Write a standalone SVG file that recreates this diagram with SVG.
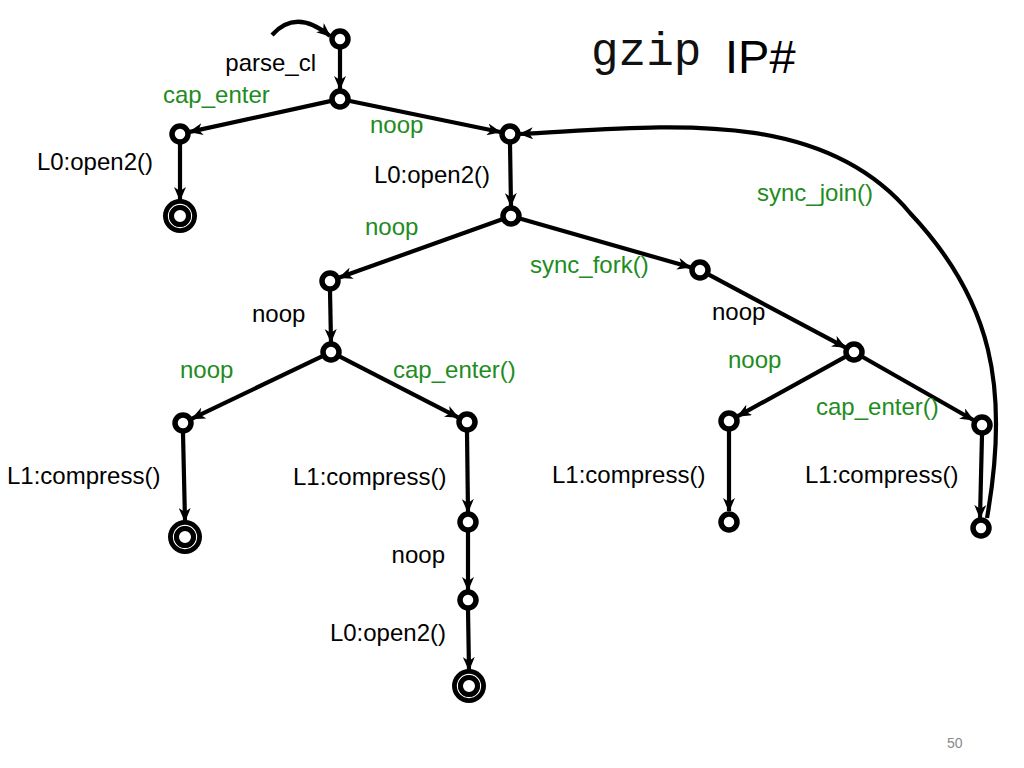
<svg xmlns="http://www.w3.org/2000/svg" width="1024" height="768" viewBox="0 0 1024 768">
<style>
.e{fill:none;stroke:#000;stroke-width:4.2;marker-end:url(#ah)}
.n{fill:#fff;stroke:#000;stroke-width:5.5}
.a1{fill:#000;stroke:none}
.a2{fill:none;stroke:#fff;stroke-width:1.3}
.a3{fill:#fff;stroke:#000;stroke-width:5}
text{font-family:"Liberation Sans",Arial,sans-serif;font-size:24px}
.g{fill:#1e8c1e}
.k{fill:#000}
.end{text-anchor:end}
</style>
<defs>
<marker id="ah" viewBox="0 0 14 12" refX="13" refY="6" markerWidth="14" markerHeight="12" markerUnits="userSpaceOnUse" orient="auto">
<path d="M0,0 L14,6 L0,12 L4,6 z" fill="#000"/>
</marker>
<g id="acc"><circle class="a1" r="17"/><circle class="a2" r="11.5"/><circle class="a3" r="8.5"/></g>
</defs>
<rect width="1024" height="768" fill="#fff"/>
<g id="title">
<text x="591" y="65" style="font-family:'Liberation Mono','Courier New',monospace;font-size:46px;fill:#111">gzip</text>
<text x="725" y="73" style="font-size:47px">IP#</text>
</g>
<g id="connectors">
<path class="e" d="M272,35 Q296,8 330,36"/>
<path class="e" d="M340,49 L340,89"/>
<path class="e" d="M330.2,101.1 L189.8,131.9"/>
<path class="e" d="M349.8,101 L500.2,132"/>
<path class="e" d="M180,144 L180,200"/>
<path class="e" d="M510,144 L511,206"/>
<path class="e" d="M501.6,219.4 L339.4,277.6"/>
<path class="e" d="M520.6,218.7 L690.4,267.3"/>
<path class="e" d="M330,291 L331,342"/>
<path class="e" d="M322,356.3 L192,418.7"/>
<path class="e" d="M339.9,356.6 L458.1,417.4"/>
<path class="e" d="M183,433 L185,521"/>
<path class="e" d="M467,432 L468,512"/>
<path class="e" d="M468,532 L468,590"/>
<path class="e" d="M468,610 L469,670"/>
<path class="e" d="M708.8,274.7 L845.2,347.3"/>
<path class="e" d="M845.2,356.8 L737.8,416.2"/>
<path class="e" d="M862.7,357 L973.3,420"/>
<path class="e" d="M729,431 L729,511"/>
<path class="e" d="M982,435 L980,518"/>
<path class="e" d="M987,518 C1010,388 992,300 910,213 C820,105 660,127 520,134"/>
</g>
<g id="nodes">
<g id="n0"><circle class="n" cx="340" cy="39" r="8"/></g>
<g id="n1"><circle class="n" cx="340" cy="99" r="8"/></g>
<g id="n2"><circle class="n" cx="180" cy="134" r="8"/></g>
<g id="n3"><use href="#acc" x="180" y="216"/></g>
<g id="n4"><circle class="n" cx="510" cy="134" r="8"/></g>
<g id="n5"><circle class="n" cx="511" cy="216" r="8"/></g>
<g id="n6"><circle class="n" cx="330" cy="281" r="8"/></g>
<g id="n7"><circle class="n" cx="331" cy="352" r="8"/></g>
<g id="n8"><circle class="n" cx="183" cy="423" r="8"/></g>
<g id="n9"><use href="#acc" x="185" y="537"/></g>
<g id="n10"><circle class="n" cx="467" cy="422" r="8"/></g>
<g id="n11"><circle class="n" cx="468" cy="522" r="8"/></g>
<g id="n12"><circle class="n" cx="468" cy="600" r="8"/></g>
<g id="n13"><use href="#acc" x="469" y="686"/></g>
<g id="n14"><circle class="n" cx="700" cy="270" r="8"/></g>
<g id="n15"><circle class="n" cx="854" cy="352" r="8"/></g>
<g id="n16"><circle class="n" cx="729" cy="421" r="8"/></g>
<g id="n17"><circle class="n" cx="982" cy="425" r="8"/></g>
<g id="n18"><circle class="n" cx="729" cy="522" r="8"/></g>
<g id="n19"><circle class="n" cx="981" cy="528" r="8"/></g>
</g>
<g id="labels">
<text class="k end" x="316" y="71">parse_cl</text>
<text class="g" x="163" y="103">cap_enter</text>
<text class="g" x="370" y="133">noop</text>
<text class="k end" x="490" y="183">L0:open2()</text>
<text class="k end" x="153" y="170">L0:open2()</text>
<text class="g" x="365" y="235">noop</text>
<text class="g" x="757" y="201">sync_join()</text>
<text class="g" x="530" y="273">sync_fork()</text>
<text class="k" x="252" y="322">noop</text>
<text class="k" x="712" y="320">noop</text>
<text class="g" x="180" y="378">noop</text>
<text class="g" x="393" y="378">cap_enter()</text>
<text class="g" x="728" y="368">noop</text>
<text class="g" x="816" y="415">cap_enter()</text>
<text class="k" x="7" y="484">L1:compress()</text>
<text class="k" x="293" y="485">L1:compress()</text>
<text class="k end" x="445" y="563">noop</text>
<text class="k end" x="446" y="641">L0:open2()</text>
<text class="k" x="552" y="483">L1:compress()</text>
<text class="k" x="805" y="483">L1:compress()</text>
<text x="947" y="748" style="font-size:14px;fill:#8a8a8a">50</text>
</g>
</svg>
